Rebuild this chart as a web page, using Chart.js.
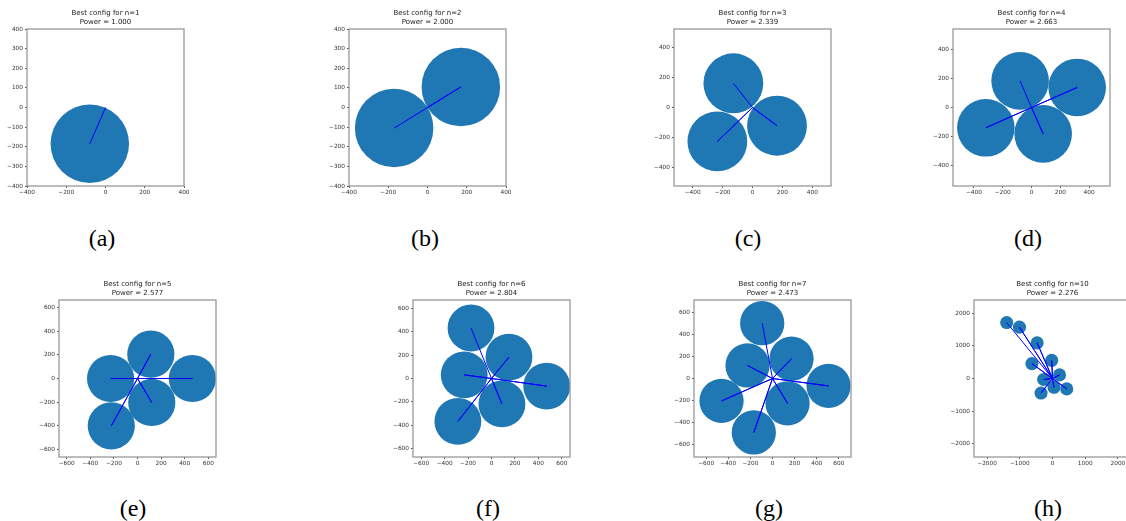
<!DOCTYPE html>
<html>
<head>
<meta charset="utf-8">
<script src="https://cdn.jsdelivr.net/npm/chart.js"></script>
<style>
  body { margin: 0; width: 1126px; height: 521px; overflow: hidden; background: #fff; position: relative; }
  canvas { position: absolute; }
  .sub { position: absolute; font-family: "Liberation Serif", "DejaVu Serif", serif; font-size: 24px; color: #000;
         transform: translate(-50%, -50%); white-space: nowrap; }
</style>
</head>
<body>
<script>
// values
const nValues = [1, 2, 3, 4, 5, 6, 7, 10];
const powers = ['1.000', '2.000', '2.339', '2.663', '2.577', '2.804', '2.473', '2.276'];
const subLabels = ['(a)', '(b)', '(c)', '(d)', '(e)', '(f)', '(g)', '(h)'];
const circleRadius = 200;
const axisLimits = [400, 400, 525, 545, 665, 670, 710, 2400];

const ticks400 = [-400, -200, 0, 200, 400];
const ticks400fine = [-400, -300, -200, -100, 0, 100, 200, 300, 400];
const ticks600 = [-600, -400, -200, 0, 200, 400, 600];
const ticks2000 = [-2000, -1000, 0, 1000, 2000];
const xTickSets = [ticks400, ticks400, ticks400, ticks400, ticks600, ticks600, ticks600, ticks2000];
const yTickSets = [ticks400fine, ticks400fine, ticks400, ticks400, ticks600, ticks600, ticks600, ticks2000];

const centersN1 = [[-80, -185]];
const centersN2 = [[-170, -105], [170, 105]];
const centersN3 = [[-128, 162], [164, -122], [-235, -227]];
const centersN4 = [[-79, 185], [317, 139], [-317, -141], [81, -183]];
const centersN5 = [[-228, 0], [113, 206], [465, 0], [121, -203], [-222, -401]];
const centersN6 = [[-175, 431], [149, 183], [-233, 31], [471, -65], [89, -217], [-287, -366]];
const centersN7 = [[-93, 500], [172, 179], [-226, 118], [507, -67], [136, -224], [-461, -203], [-169, -488]];
const centersN10 = [[-1400, 1710], [-1010, 1570], [-470, 1090], [-25, 555], [-630, 455],
                    [215, 110], [-270, -30], [45, -270], [435, -318], [-350, -445]];
const allCenters = [centersN1, centersN2, centersN3, centersN4, centersN5, centersN6, centersN7, centersN10];

// layout of the figure (plot box top-left corners, label centres)
const plotLeft = [27, 349, 674, 953, 59, 413, 694, 974];
const plotTop = [29, 29, 29, 29, 300, 300, 300, 300];
const labelX = [102, 425, 748, 1028, 133, 488, 769, 1048];
const labelY = [238, 238, 238, 238, 508, 508, 508, 508];
const PLOT = 157, YW = 28, XH = 14, TITLE_H = 20, PAD_R = 12;

const tickFmt = v => (v < 0 ? '\u2212' + Math.abs(v) : String(v));

const framePlugin = {
  id: 'frame',
  afterDraw(chart) {
    const { ctx, chartArea: a } = chart;
    ctx.save();
    ctx.strokeStyle = '#999';
    ctx.lineWidth = 1.3;
    ctx.strokeRect(a.left, a.top, a.right - a.left, a.bottom - a.top);
    ctx.restore();
  }
};

function radiusPx(chart) {
  const s = chart.scales.x;
  return Math.abs(s.getPixelForValue(circleRadius) - s.getPixelForValue(0));
}

function axis(lim, tickValues, horizontal) {
  return {
    type: 'linear',
    min: -lim,
    max: lim,
    afterBuildTicks: s => { s.ticks = tickValues.map(v => ({ value: v })); },
    ticks: {
      autoSkip: false,
      maxRotation: 0,
      padding: horizontal ? 1 : 2,
      color: '#333',
      font: { family: 'DejaVu Sans', size: 5.8 },
      callback: tickFmt
    },
    grid: { drawOnChartArea: false, tickLength: 2, color: '#555' },
    border: { display: false },
    afterFit: s => {
      if (horizontal) { s.height = XH; s.paddingLeft = 0; s.paddingRight = 0; }
      else { s.width = YW; s.paddingTop = 0; s.paddingBottom = 0; }
    }
  };
}

allCenters.forEach((centers, i) => {
  const cv = document.createElement('canvas');
  cv.width = YW + PLOT + PAD_R;
  cv.height = TITLE_H + PLOT + XH;
  cv.style.left = (plotLeft[i] - YW) + 'px';
  cv.style.top = (plotTop[i] - TITLE_H) + 'px';
  document.body.appendChild(cv);

  const pts = centers.map(c => ({ x: c[0], y: c[1] }));
  const spokes = centers.flatMap(c => [{ x: c[0], y: c[1] }, { x: 0, y: 0 }]);

  new Chart(cv.getContext('2d'), {
    type: 'scatter',
    data: {
      datasets: [{
        data: spokes,
        showLine: true,
        borderColor: '#0000ff',
        borderWidth: 1,
        pointRadius: 0
      }, {
        data: pts,
        backgroundColor: '#1f77b4',
        pointBorderWidth: 0,
        pointRadius: c => radiusPx(c.chart)
      }]
    },
    options: {
      responsive: false,
      animation: false,
      events: [],
      layout: { padding: { right: PAD_R } },
      plugins: {
        legend: { display: false },
        tooltip: { enabled: false },
        title: {
          display: true,
          fullSize: false,
          text: ['Best config for n=' + nValues[i], 'Power = ' + powers[i]],
          color: '#222',
          font: { family: 'DejaVu Sans', size: 7, weight: 'normal', lineHeight: 9 / 7 },
          padding: { top: 0, bottom: 2 }
        }
      },
      scales: {
        x: axis(axisLimits[i], xTickSets[i], true),
        y: axis(axisLimits[i], yTickSets[i], false)
      }
    },
    plugins: [framePlugin]
  });

  const lab = document.createElement('div');
  lab.className = 'sub';
  lab.textContent = subLabels[i];
  lab.style.left = labelX[i] + 'px';
  lab.style.top = labelY[i] + 'px';
  document.body.appendChild(lab);
});
</script>
</body>
</html>
